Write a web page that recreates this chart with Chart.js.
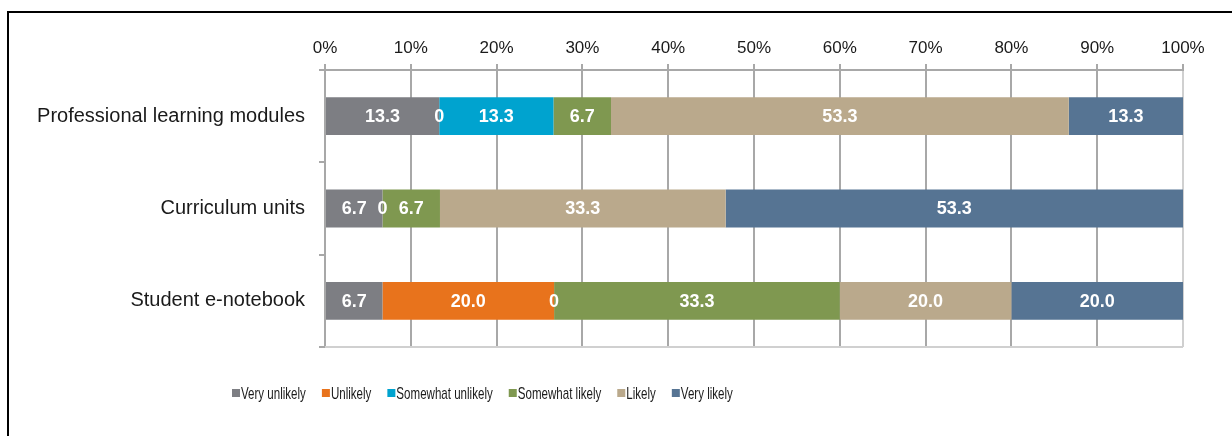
<!DOCTYPE html>
<html>
<head>
<meta charset="utf-8">
<script src="https://cdn.jsdelivr.net/npm/chart.js@4/dist/chart.umd.min.js"></script>
<style>
  html, body { margin: 0; padding: 0; background: #fff; overflow: hidden; }
  #frame { position: absolute; left: 7px; top: 11px; width: 1400px; height: 600px;
           border-top: 2px solid #000; border-left: 2px solid #000; }
  #wrap { position: absolute; left: 0; top: 0; width: 1232px; height: 436px; }
</style>
</head>
<body>
<div id="frame"></div>
<div id="wrap"><canvas id="c" width="1232" height="436"></canvas></div>
<script>
const categories = ['Professional learning modules', 'Curriculum units', 'Student e-notebook'];
const seriesNames = ['Very unlikely', 'Unlikely', 'Somewhat unlikely', 'Somewhat likely', 'Likely', 'Very likely'];
const veryUnlikely     = [13.3, 6.7, 6.7];
const unlikely         = [0, 0, 20.0];
const somewhatUnlikely = [13.3, null, 0];
const somewhatLikely   = [6.7, 6.7, 33.3];
const likely           = [53.3, 33.3, 20.0];
const veryLikely       = [13.3, 53.3, 20.0];
const tickLabels = ['0%', '10%', '20%', '30%', '40%', '50%', '60%', '70%', '80%', '90%', '100%'];
const seriesColors = ['#7d7e83', '#e8731c', '#00a3cf', '#7f9850', '#baa98c', '#567493'];

const rawSeries = [veryUnlikely, unlikely, somewhatUnlikely, somewhatLikely, likely, veryLikely];
const totals = categories.map((_, i) => rawSeries.reduce((s, arr) => s + (arr[i] || 0), 0));

const datasets = rawSeries.map((arr, k) => ({
  label: seriesNames[k],
  raw: arr,
  data: arr.map((v, i) => v === null ? null : v / totals[i] * 100),
  backgroundColor: seriesColors[k],
  borderWidth: 0,
  barPercentage: 0.41,
  categoryPercentage: 1.0
}));

const valueLabels = {
  id: 'valueLabels',
  afterDatasetsDraw(chart) {
    const ctx = chart.ctx;
    ctx.save();
    ctx.font = 'bold 18px "Liberation Sans", Arial, sans-serif';
    ctx.fillStyle = '#ffffff';
    ctx.textAlign = 'center';
    ctx.textBaseline = 'middle';
    chart.data.datasets.forEach((ds, di) => {
      const meta = chart.getDatasetMeta(di);
      meta.data.forEach((el, i) => {
        const v = ds.raw[i];
        if (v === null || v === undefined) return;
        const txt = v === 0 ? '0' : v.toFixed(1);
        ctx.fillText(txt, (el.x + el.base) / 2, el.y + 1);
      });
    });
    ctx.restore();
  }
};

const plotFrame = {
  id: 'plotFrame',
  beforeDatasetsDraw(chart) {
    const a = chart.chartArea, ctx = chart.ctx;
    ctx.save();
    ctx.strokeStyle = '#d0d0d0';
    ctx.lineWidth = 2;
    ctx.beginPath();
    ctx.moveTo(a.left, a.bottom);
    ctx.lineTo(a.right, a.bottom);
    ctx.stroke();
    ctx.restore();
  }
};

const customLegend = {
  id: 'customLegend',
  afterDraw(chart) {
    const ctx = chart.ctx;
    const squeeze = 0.68;
    ctx.save();
    ctx.font = '17px "Liberation Sans", Arial, sans-serif';
    ctx.textAlign = 'left';
    ctx.textBaseline = 'middle';
    let x = 232;
    const y = 393;
    chart.data.datasets.forEach(ds => {
      ctx.fillStyle = ds.backgroundColor;
      ctx.fillRect(x, y - 4, 8, 8);
      ctx.fillStyle = '#1a1a1a';
      const w = ctx.measureText(ds.label).width * squeeze;
      ctx.save();
      ctx.translate(x + 9, y + 1);
      ctx.scale(squeeze, 1);
      ctx.fillText(ds.label, 0, 0);
      ctx.restore();
      x += 9 + w + 16;
    });
    ctx.restore();
  }
};

new Chart(document.getElementById('c'), {
  type: 'bar',
  data: { labels: categories, datasets },
  options: {
    indexAxis: 'y',
    responsive: false,
    animation: false,
    layout: { padding: { left: 0, right: 49, top: 0, bottom: 89 } },
    plugins: { legend: { display: false }, tooltip: { enabled: false } },
    scales: {
      x: {
        position: 'top',
        stacked: true,
        min: 0, max: 100,
        ticks: {
          stepSize: 10,
          padding: 5,
          color: '#1a1a1a',
          font: { size: 17, family: '"Liberation Sans", Arial, sans-serif' },
          callback: (v, i) => tickLabels[i]
        },
        grid: {
          color: ctx => ctx.index === 10 ? '#d0d0d0' : '#a8a8a8',
          tickColor: '#a8a8a8',
          lineWidth: 2,
          tickLength: 6
        },
        border: { color: '#a8a8a8', width: 2 },
        afterFit: s => { s.height = 70; }
      },
      y: {
        stacked: true,
        ticks: {
          padding: 14,
          color: '#1a1a1a',
          font: { size: 20, family: '"Liberation Sans", Arial, sans-serif' }
        },
        grid: {
          offset: true,
          drawOnChartArea: false,
          color: '#a8a8a8',
          lineWidth: 2,
          tickLength: 6
        },
        border: { color: '#a8a8a8', width: 2 },
        afterFit: s => { s.width = 325; }
      }
    }
  },
  plugins: [plotFrame, valueLabels, customLegend]
});
</script>
</body>
</html>
